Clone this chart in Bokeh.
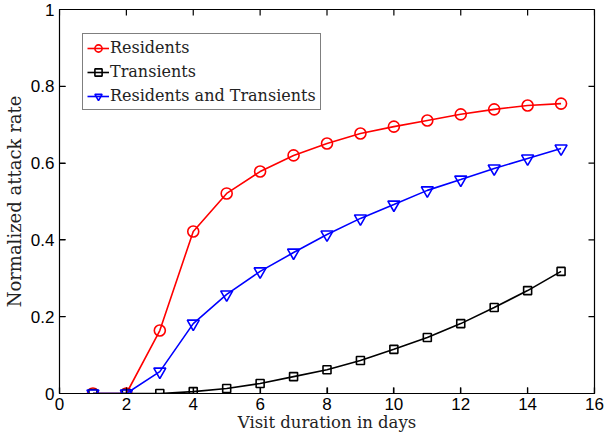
from bokeh.plotting import figure
from bokeh.models import CustomJSTickFormatter, FixedTicker, Range1d
from bokeh.embed import file_html
from bokeh.resources import INLINE

days = [1, 2, 3, 4, 5, 6, 7, 8, 9, 10, 11, 12, 13, 14, 15]
residents = [0, 0, 0.164, 0.422, 0.521, 0.578, 0.620, 0.651, 0.677, 0.695, 0.711, 0.727, 0.740, 0.750, 0.755]
transients = [0, 0, 0, 0.005, 0.013, 0.026, 0.044, 0.062, 0.086, 0.115, 0.146, 0.182, 0.224, 0.268, 0.318]
both = [0, 0, 0.057, 0.182, 0.258, 0.318, 0.367, 0.414, 0.456, 0.492, 0.529, 0.557, 0.586, 0.612, 0.638]
x_ticks = [0, 2, 4, 6, 8, 10, 12, 14, 16]
y_ticks = [0, 0.2, 0.4, 0.6, 0.8, 1.0]
x_min, x_max = 0, 16
y_min, y_max = 0, 1

SERIF = "DejaVu Serif"
SANS = "Liberation Sans"

W, H = 604, 444
ML, MR, MT, MB = 59, 10, 9, 51
TICK_PX = 6

p = figure(width=W, height=H, output_backend="svg", toolbar_location=None,
           x_range=Range1d(x_min, x_max), y_range=Range1d(y_min, y_max),
           min_border_left=ML, min_border_right=MR, min_border_top=MT, min_border_bottom=MB)
p.xgrid.visible = False
p.ygrid.visible = False
p.outline_line_color = "black"
p.outline_line_width = 1.2
p.background_fill_color = None
p.border_fill_color = "white"

fmt = CustomJSTickFormatter(code="return parseFloat(tick.toFixed(2)).toString();")

p.xaxis.ticker = FixedTicker(ticks=x_ticks)
p.yaxis.ticker = FixedTicker(ticks=y_ticks)
for ax in p.xaxis + p.yaxis:
    ax.major_tick_in = TICK_PX
    ax.major_tick_out = 0
    ax.minor_tick_line_color = None
    ax.axis_line_color = "black"
    ax.major_tick_line_color = "black"
    ax.major_tick_line_width = 1.2
    ax.major_label_text_font = SANS
    ax.major_label_text_color = "black"
    ax.major_label_text_font_size = "17px"
    ax.axis_label_text_font = SERIF
    ax.axis_label_text_font_style = "normal"
    ax.axis_label_text_color = "#222222"
    ax.formatter = fmt
p.xaxis.axis_label = "Visit duration in days"
p.yaxis.axis_label = "Normalized attack rate"
p.xaxis.axis_label_text_font_size = "16.5px"
p.yaxis.axis_label_text_font_size = "18px"
p.xaxis.major_label_standoff = 4
p.yaxis.major_label_standoff = 5
p.xaxis.axis_label_standoff = 0
p.yaxis.axis_label_standoff = 3

# inward tick marks on all four edges of the box, drawn as glyphs
dx = TICK_PX * (x_max - x_min) / (W - ML - MR)
dy = TICK_PX * (y_max - y_min) / (H - MT - MB)
nx, ny = len(x_ticks), len(y_ticks)
p.segment(x0=x_ticks, y0=[y_min] * nx, x1=x_ticks, y1=[y_min + dy] * nx,
          line_color="black", line_width=1.2)
p.segment(x0=x_ticks, y0=[y_max] * nx, x1=x_ticks, y1=[y_max - dy] * nx,
          line_color="black", line_width=1.2)
p.segment(x0=[x_min] * ny, y0=y_ticks, x1=[x_min + dx] * ny, y1=y_ticks,
          line_color="black", line_width=1.2)
p.segment(x0=[x_max] * ny, y0=y_ticks, x1=[x_max - dx] * ny, y1=y_ticks,
          line_color="black", line_width=1.2)

series = [
    ("Residents", residents, "#ff0000", "circle", 11),
    ("Transients", transients, "black", "square", 8),
    ("Residents and Transients", both, "#0000ff", "inverted_triangle", 12),
]
for name, ys, col, mk, sz in series:
    p.line(days, ys, line_color=col, line_width=1.6, legend_label=name)
    p.scatter(days, ys, marker=mk, size=sz, line_color=col, line_width=1.6,
              fill_color=None, legend_label=name)

lg = p.legend[0]
lg.location = (23, 283)
lg.border_line_color = "black"
lg.border_line_width = 1.2
lg.background_fill_color = "white"
lg.background_fill_alpha = 1
lg.label_text_font = SERIF
lg.label_text_font_size = "16px"
lg.label_text_color = "#222222"
lg.glyph_width = 22
lg.glyph_height = 18
lg.label_height = 18
lg.label_standoff = 1
lg.padding = 4
lg.spacing = 5
lg.margin = 0

open("out.html", "w").write(file_html(p, INLINE))
